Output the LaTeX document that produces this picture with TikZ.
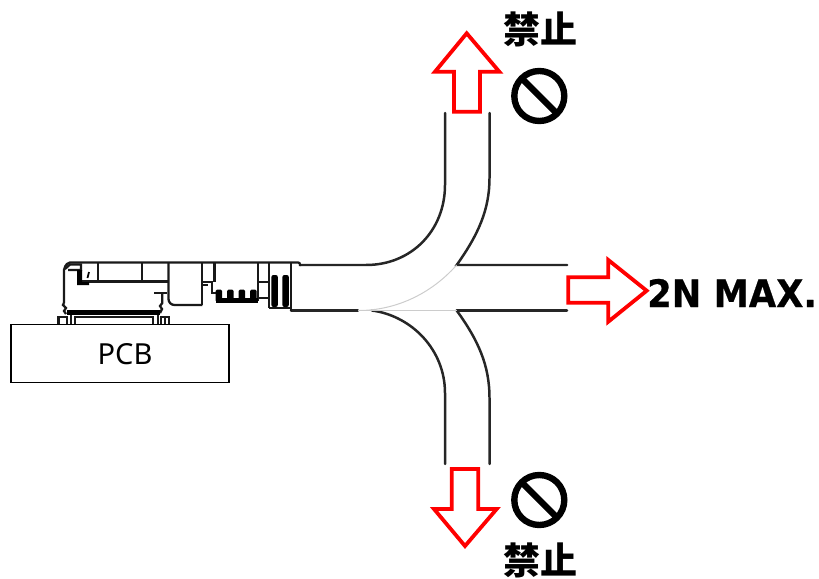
\documentclass[tikz,border=0pt]{standalone}
\usepackage{fontspec}
\newfontfamily\cjkb[Script=CJK]{Noto Sans CJK JP Black}
\newfontfamily\dvb[FakeStretch=0.93,FakeBold=0.6]{DejaVu Sans Bold}
\newfontfamily\nsans{Noto Sans}
\tikzset{
  cable/.style={line width=2.5pt,draw=black!85,line cap=round},
  seam/.style={line width=1pt,draw=black!20},
  redarrow/.style={draw=red,line width=3.8pt,fill=white,miter limit=10},
  part/.style={line width=2.3pt,draw=black!90},
  solidpart/.style={fill=black,draw=none},
  nosign/.style={draw=black,line width=6.4pt},
  kinshi/.style={inner sep=0pt,font=\cjkb\fontsize{37bp}{37bp}\selectfont},
}
\begin{document}
\begin{tikzpicture}[x=1bp,y=-1bp]
\useasboundingbox (0,0) rectangle (819,579);
% cable
\draw[cable] (300,265) -- (366,265) .. controls (412,265) and (445,230) .. (445,185) -- (445,113);
\draw[cable] (489.5,113) -- (489.5,178) .. controls (489.5,210) and (478,235) .. (456.7,265) -- (567,265);
\draw[cable] (291,310.5) -- (358,310.5);
\draw[cable] (456.7,310.5) -- (567,310.5);
\draw[cable] (372,310.5) .. controls (412,316) and (445,350) .. (445,393) -- (445,464);
\draw[cable] (456.7,310.5) .. controls (478,340) and (489.5,365) .. (489.5,398) -- (489.5,464);
\draw[seam] (358,310.5) -- (456.7,310.5);
\draw[seam] (456.7,265) .. controls (430,295) and (395,310) .. (360,310.5);
% connector outline
\draw[part,rounded corners=2pt] (64,303) -- (64,268) -- (68,262.5) -- (300,262.5) -- (300,266);
\draw[part] (64,303) -- (63,305) -- (66,308) -- (64,311) -- (66,314);
\draw[part] (65,269) -- (70,264.5) -- (81,264.5) -- (81,270) -- (68,270);
\draw[part] (98.3,262.5) -- (98.3,281.5);
\draw[part] (142.3,262.5) -- (142.3,281.5);
\draw[part] (81,281.5) -- (168.5,281.5);
\draw[part,rounded corners=6pt] (168.5,262.5) -- (168.5,305) -- (202.3,305);
\draw[part] (202.3,262.5) -- (202.3,305);
\draw[part] (202.3,282) -- (212,282) -- (212,293) -- (216,293);
\draw[part] (202.3,285) -- (208,285);
\draw[part] (214.5,262.5) -- (214.5,282);
\draw[part] (258,262.5) -- (258,301);
\draw[part] (258,281.7) -- (269.3,281.7);
\draw[part] (258,298) -- (269.3,298);
\draw[part] (269.3,262.5) -- (269.3,308);
\draw[part] (269.3,308) -- (291,308);
\draw[part] (291,262.5) -- (291,311);
\draw[part] (154.3,292.7) -- (167,292.7);
\draw[part] (162.3,292.7) -- (162.3,303) -- (160,306) -- (162,309) -- (160,313);
\draw[part] (58.5,324) -- (58.5,317) -- (66.7,317) -- (66.7,324);
\draw[part] (161,324) -- (161,317) -- (169,317) -- (169,324);
\draw[part] (165,317) -- (165,324);
\draw[part] (75,324) -- (75,316.7) -- (153.3,316.7) -- (153.3,324);
\draw[part] (71,314) -- (71,324);
\draw[part] (158,314) -- (158,324);
% solid parts
\fill[solidpart] (66.7,309.5) rectangle (160,315);
\fill[solidpart] (77,270) -- (82,270) -- (82,282) -- (89,282) -- (89,285) -- (77,285) -- cycle;
\draw[line width=1.8pt] (89,272) -- (87.5,278);
\fill[solidpart] (216,298) rectangle (258,302.5);
\foreach \tx in {215.7,227.2,238.7,250.2}
  \fill[solidpart,rounded corners=1.5pt] (\tx,302) rectangle (\tx+6.4,289.5);
\foreach \bx in {271.4,282.4}
  \fill[solidpart,rounded corners=2pt] (\bx,307) rectangle (\bx+6.4,275);
% PCB
\node[draw=black,line width=2pt,minimum width=218bp,minimum height=58bp,inner sep=0pt] (pcb) at (120,353.5) {};
\node[inner sep=0pt,font=\nsans\fontsize{29bp}{29bp}\selectfont] (pcblabel) at (125,354) {PCB};
% red arrows
\draw[redarrow] (454,111.7) -- (454,71.7) -- (435,71.7) -- (466.7,33.3) -- (499.3,71.7) -- (480,71.7) -- (480,111.7) -- cycle;
\draw[redarrow] (451.7,469) -- (451.7,509) -- (434,509) -- (465,546) -- (496.7,509) -- (478.3,509) -- (478.3,469) -- cycle;
\draw[redarrow] (568.3,277.3) -- (608.3,277.3) -- (608.3,260) -- (646.7,290.7) -- (608.3,321.7) -- (608.3,302.7) -- (568.3,302.7) -- cycle;
% labels
\node[inner sep=0pt,anchor=west,font=\dvb\fontsize{38bp}{38bp}\selectfont] (max) at (647,293) {2N MAX.};
\node[kinshi] (k1) at (540,29) {禁止};
\node[kinshi] (k2) at (540,560) {禁止};
% prohibition signs
\draw[nosign] (539.3,96) circle (25);
\draw[nosign] (521.6,78.3) -- (557,113.7);
\draw[nosign] (539.3,500) circle (25);
\draw[nosign] (521.6,482.3) -- (557,517.7);
\end{tikzpicture}
\end{document}
